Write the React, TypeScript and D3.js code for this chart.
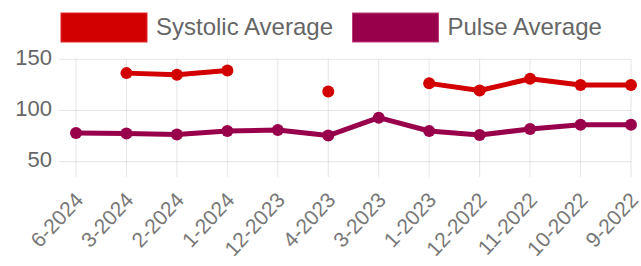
import React from 'react'
import { scalePoint, scaleLinear, line } from 'd3'

const labels = ['6-2024', '3-2024', '2-2024', '1-2024', '12-2023', '4-2023', '3-2023', '1-2023', '12-2022', '11-2022', '10-2022', '9-2022']
const systolic: (number | null)[] = [null, 136.5, 135, 139, null, 118.5, null, 126.5, 119.5, 131, 125, 125]
const pulse: (number | null)[] = [78, 77.5, 76.5, 80, 81, 75.5, 93, 80, 76, 82, 86, 86]
const yTicks = [50, 100, 150]

const series = [
  { name: 'Systolic Average', values: systolic, color: 'rgb(210,0,0)', border: 'rgb(225,40,40)' },
  { name: 'Pulse Average', values: pulse, color: 'rgb(153,0,76)', border: 'rgb(190,60,120)' }
]

const W = 641
const H = 266
const font = '"Liberation Sans", Arial, Helvetica, sans-serif'

export default function App() {
  const x = scalePoint<string>().domain(labels).range([76, 631])
  const y = scaleLinear().domain([50, 150]).range([161.7, 59.3])

  const makeLine = line<number | null>()
    .defined(d => d != null)
    .x((_, i) => x(labels[i]) as number)
    .y(d => y(d as number))

  const legendX = [61, 352.5]

  return (
    <svg width={W} height={H} style={{ position: 'absolute', left: 0, top: 0 }} fontFamily={font}>
      <rect width={W} height={H} fill="#fff" />
      {/* legend */}
      {series.map((s, i) => (
        <g key={s.name}>
          <rect x={legendX[i]} y={13} width={86} height={29} fill={s.color} stroke={s.border} strokeWidth={1} />
          <text x={legendX[i] + 95} y={35} fontSize={24} fill="#666">
            {s.name}
          </text>
        </g>
      ))}
      {/* grid */}
      {yTicks.map(t => (
        <g key={t}>
          <line x1={59} x2={631} y1={y(t)} y2={y(t)} stroke="rgba(0,0,0,0.1)" strokeWidth={1} />
          <text x={52} y={y(t) - 2} dy="0.35em" textAnchor="end" fontSize={22} fill="#666">
            {t}
          </text>
        </g>
      ))}
      {labels.map(l => (
        <g key={l}>
          <line x1={x(l)} x2={x(l)} y1={59.3} y2={177} stroke="rgba(0,0,0,0.1)" strokeWidth={1} />
          <text
            transform={`translate(${(x(l) as number) + 3},196) rotate(-47)`}
            dy="0.35em"
            textAnchor="end"
            fontSize={21}
            fill="#777"
          >
            {l}
          </text>
        </g>
      ))}
      {/* series */}
      {series.map(s => (
        <g key={s.name}>
          <path d={makeLine(s.values) || ''} fill="none" stroke={s.color} strokeWidth={5} strokeLinejoin="round" />
          {s.values.map((v, i) =>
            v == null ? null : <circle key={i} cx={x(labels[i])} cy={y(v)} r={6} fill={s.color} />
          )}
        </g>
      ))}
    </svg>
  )
}
